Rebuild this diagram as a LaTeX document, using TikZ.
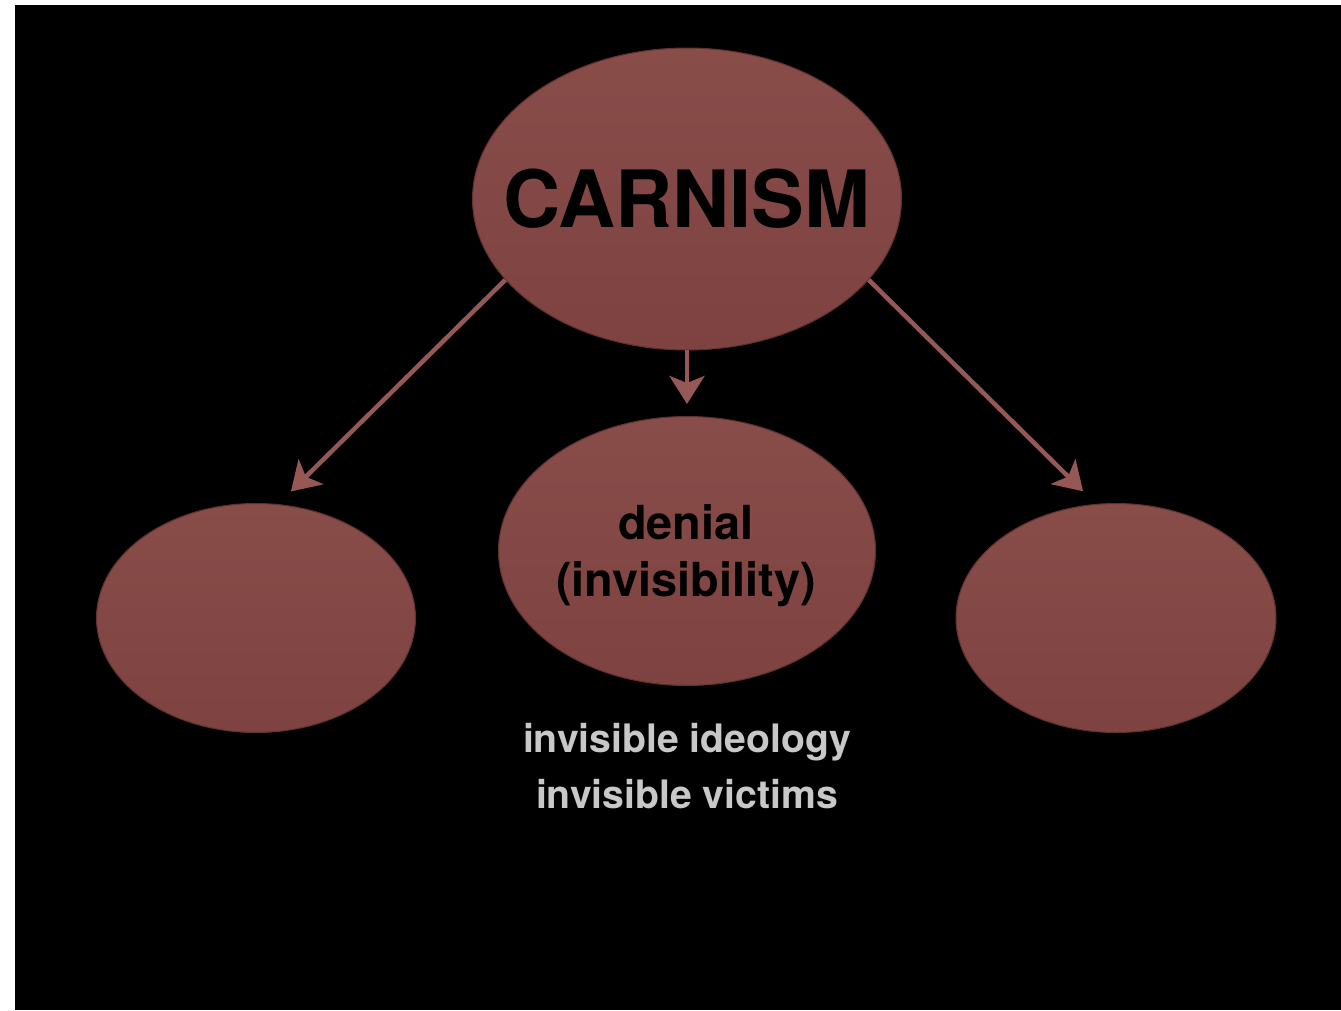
\documentclass[tikz,border=0pt]{standalone}
\usepackage{fontspec}
\setmainfont{TeX Gyre Heros}
\usepackage{xcolor}
\usepackage{tikz}
\usetikzlibrary{shapes.geometric, arrows.meta}

\definecolor{carnfill}{RGB}{126,67,65}
\definecolor{carntop}{RGB}{136,76,73}
\definecolor{carnrim}{RGB}{98,50,48}
\definecolor{carnarrow}{RGB}{150,88,86}
\definecolor{softgray}{RGB}{200,200,200}

\tikzset{
    blob/.style={ellipse, inner sep=0pt, draw=carnrim, line width=0.6pt,
        top color=carntop, bottom color=carnfill},
    link/.style={draw=carnarrow, line width=0.09cm,
        -{Stealth[length=0.56cm, width=0.7cm, inset=0.14cm]}}
}

\begin{document}
\begin{tikzpicture}[x=0.02cm, y=-0.02cm]
    % 1. Nền
    \fill[white] (0,0) rectangle (1341,1010);
    \fill[black] (15,5) rectangle (1341,1010);
    \useasboundingbox (0,0) rectangle (1341,1010);

    % 2. Các hình elip
    \node[blob, minimum width=8.58cm, minimum height=6.04cm] (carnism) at (687,199) {};
    \node[blob, minimum width=7.54cm, minimum height=5.38cm] (denial) at (687,551) {};
    \node[blob, minimum width=6.38cm, minimum height=4.58cm] (leftblob) at (256,618) {};
    \node[blob, minimum width=6.40cm, minimum height=4.58cm] (rightblob) at (1116,618) {};

    % 3. Chữ
    \node[font=\bfseries\fontsize{45}{54}\selectfont] (carnismtext) at (carnism.center) {CARNISM};
    \node[font=\bfseries\fontsize{26.7}{32.5}\selectfont, align=center] (denialtext) at (686,556)
        {denial\\(invisibility)};
    \node[font=\bfseries\fontsize{22.3}{32}\selectfont, text=softgray, align=center] (victims) at (687,766)
        {invisible ideology\\invisible victims};

    % 4. Mũi tên
    \draw[link, shorten >=0.36cm] (carnism.204) -- (leftblob.79);
    \draw[link, shorten >=0.24cm] (carnism.south) -- (denial.north);
    \draw[link, shorten >=0.36cm] (carnism.336) -- (rightblob.100);
\end{tikzpicture}
\end{document}
